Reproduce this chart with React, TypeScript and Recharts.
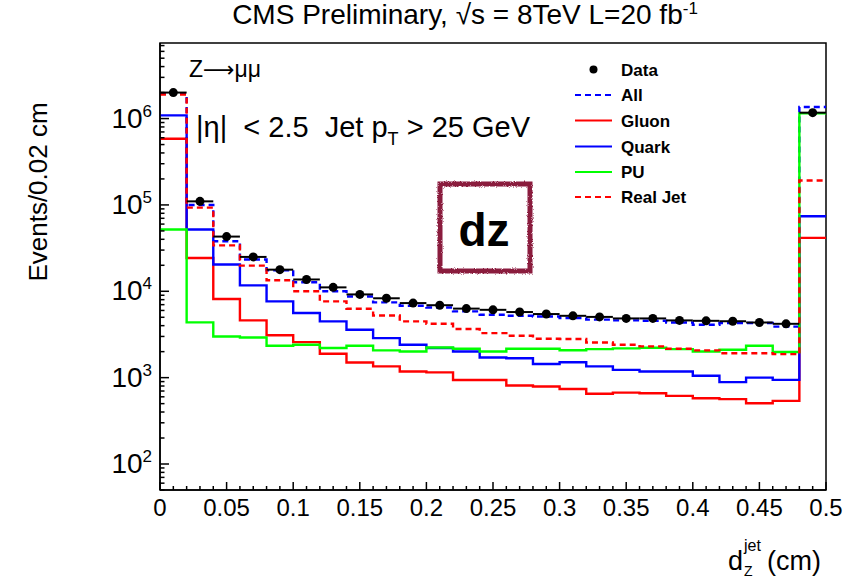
import React from 'react';
import { ComposedChart, Line, Scatter, ErrorBar, XAxis, YAxis, ReferenceArea } from 'recharts';

const FONT = '"Liberation Sans", Arial, Helvetica, sans-serif';
const WIDTH = 859;
const HEIGHT = 579;

// bins of 0.02 cm from 0 to 0.5 cm
const BIN_WIDTH = 0.02;

const dataCounts = [
  2.0e6, 1.1e5, 4.3e4, 2.5e4, 1.78e4, 1.37e4, 1.11e4, 9.2e3, 8.3e3, 7.3e3,
  6.9e3, 6.3e3, 6.1e3, 5.75e3, 5.45e3, 5.2e3, 5.05e3, 4.85e3, 4.85e3, 4.6e3,
  4.55e3, 4.5e3, 4.35e3, 4.2e3, 1.17e6,
];
const allMc = [
  1.95e6, 1.0e5, 3.8e4, 2.33e4, 1.75e4, 1.27e4, 1.0e4, 8.7e3, 7.45e3, 6.8e3,
  6.5e3, 5.85e3, 5.35e3, 5.2e3, 5.1e3, 4.9e3, 4.7e3, 4.6e3, 4.55e3, 4.35e3,
  4.1e3, 4.3e3, 4.3e3, 3.9e3, 1.36e6,
];
const gluonCounts = [
  5.85e5, 2.43e4, 8.15e3, 4.6e3, 3.1e3, 2.58e3, 1.89e3, 1.5e3, 1.35e3, 1.18e3,
  1.15e3, 940, 940, 810, 790, 740, 650, 670, 660, 615,
  578, 564, 506, 538, 4.15e4,
];
const quarkCounts = [
  1.09e6, 5.2e4, 2.04e4, 1.17e4, 7.64e3, 5.6e3, 4.48e3, 3.59e3, 2.87e3, 2.4e3,
  2.2e3, 2.01e3, 1.71e3, 1.68e3, 1.44e3, 1.51e3, 1.35e3, 1.23e3, 1.18e3, 1.18e3,
  1.05e3, 887, 1.0e3, 942, 7.4e4,
];
const puCounts = [
  5.2e4, 4.36e3, 3.0e3, 2.92e3, 2.34e3, 2.4e3, 2.2e3, 2.34e3, 2.07e3, 2.01e3,
  2.23e3, 2.16e3, 2.01e3, 2.16e3, 2.16e3, 2.08e3, 2.14e3, 2.18e3, 2.22e3, 2.14e3,
  2.01e3, 2.1e3, 2.34e3, 1.98e3, 1.15e6,
];
const realJetCounts = [
  1.9e6, 9.3e4, 3.4e4, 1.98e4, 1.34e4, 1.0e4, 7.64e3, 6.28e3, 5.25e3, 4.48e3,
  4.2e3, 3.66e3, 3.28e3, 3.05e3, 2.82e3, 2.8e3, 2.55e3, 2.4e3, 2.3e3, 2.16e3,
  2.07e3, 1.92e3, 1.92e3, 1.87e3, 1.92e5,
];

const xMajorTicks = [0, 0.05, 0.1, 0.15, 0.2, 0.25, 0.3, 0.35, 0.4, 0.45, 0.5];
const X_MIN = 0;
const X_MAX = 0.5;
const Y_MIN = 50;
const Y_MAX = 7.5e6;

const series = [
  { key: 'all', name: 'All', values: allMc, color: '#0000ff', dash: '6 4' },
  { key: 'gluon', name: 'Gluon', values: gluonCounts, color: '#ff0000' },
  { key: 'quark', name: 'Quark', values: quarkCounts, color: '#0000ff' },
  { key: 'pu', name: 'PU', values: puCounts, color: '#00ff00' },
  { key: 'realJet', name: 'Real Jet', values: realJetCounts, color: '#ff0000', dash: '6 4' },
];

// step rows sit on the low bin edges, plus a closing row at the upper edge
const nBins = dataCounts.length;
const histRows = Array.from({ length: nBins + 1 }, (_, i) => {
  const k = Math.min(i, nBins - 1);
  const row: Record<string, number> = { x: +(i * BIN_WIDTH).toFixed(2) };
  series.forEach((s) => { row[s.key] = s.values[k]; });
  return row;
});

const dataPoints = dataCounts.map((v, i) => ({
  x: +((i + 0.5) * BIN_WIDTH).toFixed(3),
  y: v,
  ex: BIN_WIDTH / 2,
}));

const xTicks: number[] = [];
for (let i = 0; i <= 50; i++) xTicks.push(+(i * 0.01).toFixed(2));

const yTicks: number[] = [];
for (let d = 1; d <= 6; d++) {
  for (let m = 1; m <= 9; m++) {
    const v = m * Math.pow(10, d);
    if (v >= Y_MIN && v <= Y_MAX) yTicks.push(v);
  }
}

const XTick = (props: any) => {
  const { x, y, payload } = props;
  const v = payload.value as number;
  const major = xMajorTicks.some((t) => Math.abs(t - v) < 1e-6);
  return (
    <g>
      <line x1={x} x2={x} y1={y} y2={y - (major ? 8 : 4)} stroke="#000" strokeWidth={1.5} />
      {major && (
        <text x={x} y={y + 26} textAnchor="middle" fontSize={24} fontFamily={FONT} fill="#000">
          {String(v)}
        </text>
      )}
    </g>
  );
};

const YTick = (props: any) => {
  const { x, y, payload } = props;
  const v = payload.value as number;
  const exp = Math.round(Math.log10(v));
  const major = Math.abs(v - Math.pow(10, exp)) < 1e-6 * v;
  return (
    <g>
      <line x1={x} x2={x + (major ? 9 : 4.5)} y1={y} y2={y} stroke="#000" strokeWidth={1.5} />
      {major && (
        <text x={x - 8} y={y + 9} textAnchor="end" fontSize={28} fontFamily={FONT} fill="#000">
          10<tspan dy={-11} fontSize={17}>{exp}</tspan>
        </text>
      )}
    </g>
  );
};

const DataDot = (props: any) => (
  <circle cx={props.cx} cy={props.cy} r={4.5} fill="#000" />
);

const legendRows = [69.5, 95, 120.5, 146.5, 172, 197];

function Overlay() {
  // legend order: Data, All, Gluon, Quark, PU, Real Jet
  const legendItems = [{ key: 'data', name: 'Data', color: '#000', dash: undefined as string | undefined, dot: true }]
    .concat(series.map((s) => ({ key: s.key, name: s.name, color: s.color, dash: s.dash, dot: false })));
  return (
    <svg
      width={WIDTH}
      height={HEIGHT}
      style={{ position: 'absolute', left: 0, top: 0, pointerEvents: 'none' }}
      fontFamily={FONT}
    >
      <defs>
        <filter id="rough" x="-10%" y="-10%" width="120%" height="120%">
          <feTurbulence type="fractalNoise" baseFrequency="0.9" numOctaves={2} seed={3} />
          <feDisplacementMap in="SourceGraphic" scale={3} />
        </filter>
      </defs>

      <text x={465} y={24} textAnchor="middle" fontSize={28} fill="#000">
        CMS Preliminary, √s = 8TeV L=20 fb<tspan dy={-10} fontSize={17}>-1</tspan>
      </text>

      <text x={189} y={77} fontSize={23} fill="#000">
        Z<tspan fontFamily='"DejaVu Sans", sans-serif' fontSize={22}>⟶</tspan>μμ
      </text>
      <text x={196} y={137} fontSize={29} fill="#000" style={{ whiteSpace: 'pre' }}>
        |η|  {'<'} 2.5  Jet p<tspan dy={8} fontSize={18}>T</tspan>
        <tspan dy={-8}> {'>'} 25 GeV</tspan>
      </text>

      <rect x={440} y={184} width={90} height={87} fill="none" stroke="#8a1a3c" strokeWidth={5} filter="url(#rough)" />
      <text x={484} y={246} textAnchor="middle" fontSize={46} fontWeight="bold" fill="#000">dz</text>

      {legendItems.map((it, i) => {
        const y = legendRows[i];
        return (
          <g key={it.key}>
            {it.dot ? (
              <circle cx={593.5} cy={y} r={4} fill="#000" />
            ) : (
              <line x1={575} x2={612} y1={y} y2={y} stroke={it.color} strokeWidth={2.2} strokeDasharray={it.dash} />
            )}
            <text x={621} y={y + 6} fontSize={17} fontWeight="bold" fill="#000">{it.name}</text>
          </g>
        );
      })}

      <text transform="translate(47,192) rotate(-90)" textAnchor="middle" fontSize={26} fill="#000">
        Events/0.02 cm
      </text>

      <text x={728} y={570} fontSize={27} fill="#000">d</text>
      <text x={744} y={551} fontSize={16} fill="#000">jet</text>
      <text x={744} y={576} fontSize={14} fill="#000">Z</text>
      <text x={767} y={570} fontSize={27} fill="#000">(cm)</text>
    </svg>
  );
}

export default function App() {
  return (
    <div style={{ position: 'absolute', left: 0, top: 0, width: WIDTH, height: HEIGHT, background: '#fff' }}>
      <ComposedChart
        width={WIDTH}
        height={HEIGHT}
        data={histRows}
        margin={{ top: 43, right: 33, left: 100, bottom: 59 }}
      >
        <XAxis
          dataKey="x"
          type="number"
          domain={[X_MIN, X_MAX]}
          ticks={xTicks}
          interval={0}
          tickSize={0}
          tickMargin={0}
          tick={XTick}
          height={30}
          axisLine={{ stroke: '#000', strokeWidth: 1.5 }}
        />
        <YAxis
          type="number"
          scale="log"
          domain={[Y_MIN, Y_MAX]}
          allowDataOverflow
          ticks={yTicks}
          interval={0}
          tickSize={0}
          tickMargin={0}
          tick={YTick}
          width={60}
          axisLine={{ stroke: '#000', strokeWidth: 1.5 }}
        />
        {/* frame around the plot area */}
        <ReferenceArea
          x1={X_MIN}
          x2={X_MAX}
          y1={Y_MIN}
          y2={Y_MAX}
          fill="none"
          fillOpacity={0}
          stroke="#000"
          strokeWidth={1.5}
        />
        {series.map((s) => (
          <Line
            key={s.key}
            dataKey={s.key}
            type="stepAfter"
            stroke={s.color}
            strokeWidth={2.4}
            strokeDasharray={s.dash}
            dot={false}
            activeDot={false}
            isAnimationActive={false}
          />
        ))}
        <Scatter data={dataPoints} dataKey="y" shape={DataDot} isAnimationActive={false}>
          <ErrorBar dataKey="ex" direction="x" width={0} stroke="#000" strokeWidth={2} isAnimationActive={false} />
        </Scatter>
      </ComposedChart>
      <Overlay />
    </div>
  );
}
